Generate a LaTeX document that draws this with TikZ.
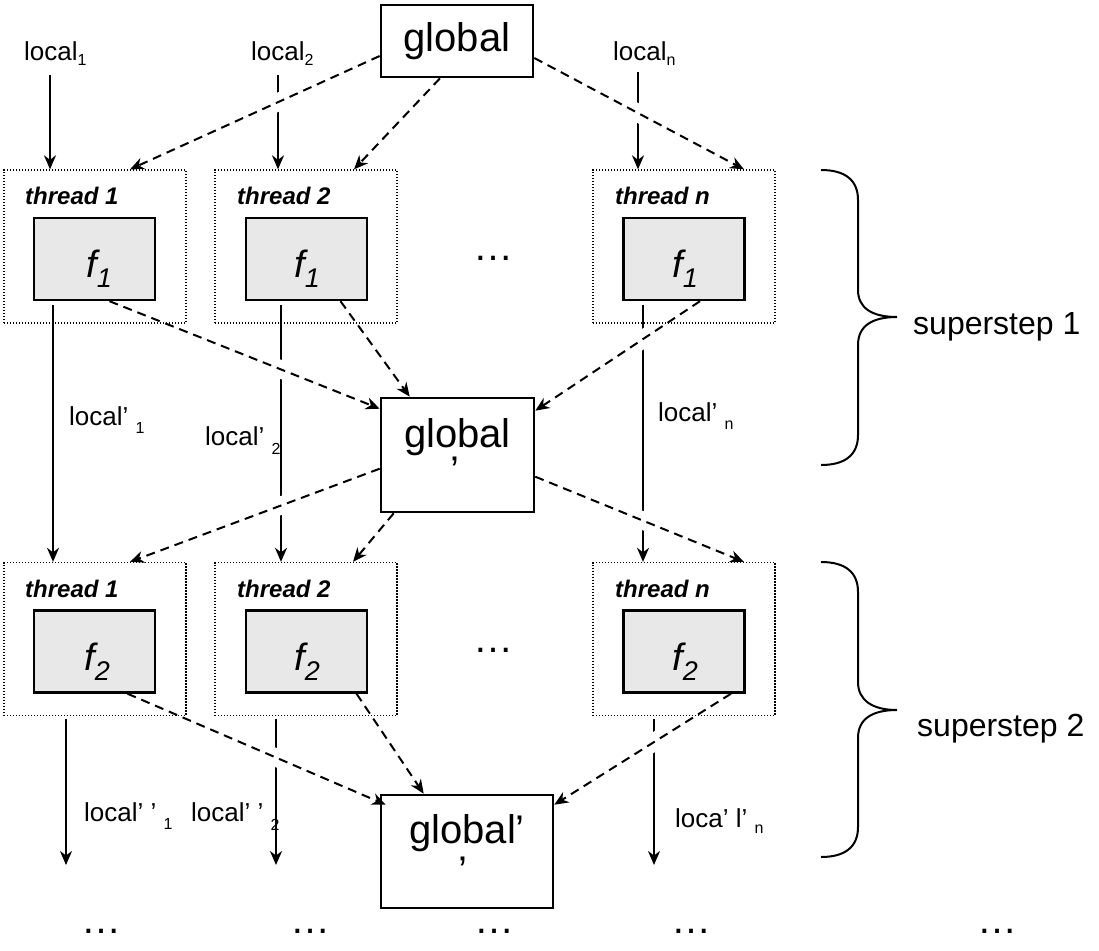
\documentclass[tikz,border=0pt]{standalone}
\usepackage{fontspec}
\setmainfont{Liberation Sans}
\usetikzlibrary{arrows.meta}
\definecolor{boxgray}{RGB}{232,232,232}
\pgfdeclarelayer{edges}
\pgfsetlayers{edges,main}
\newcommand\sbs[2][6]{\raisebox{-#1pt}{\fontsize{16}{16}\selectfont #2}}
\newcommand\fsb[1]{\raisebox{-10pt}{\fontsize{27}{27}\selectfont #1}}
\begin{document}
\begin{tikzpicture}[x=1pt,y=-1pt,
  thbox/.style={draw, line width=1.3pt, dash pattern=on 1.3pt off 1.7pt, minimum width=182pt, minimum height=153pt, inner sep=0pt},
  fbox/.style={draw, line width=2.4pt, fill=boxgray, minimum width=121pt, minimum height=82pt, inner sep=0pt},
  ftext/.style={inner sep=0pt, anchor=base west, font=\fontsize{38}{38}\selectfont\itshape},
  gbox/.style={draw, line width=2.6pt, inner sep=0pt},
  gtext/.style={inner sep=0pt, font=\fontsize{40}{40}\selectfont},
  thlab/.style={inner sep=0pt, anchor=west, font=\fontsize{24}{24}\selectfont\bfseries\itshape},
  lab/.style={inner sep=0pt, anchor=base west, font=\fontsize{26}{26}\selectfont},
  sslab/.style={inner sep=0pt, anchor=base west, font=\fontsize{32}{32}\selectfont},
  dots/.style={inner sep=0pt, font=\fontsize{40}{40}\selectfont},
  arr/.style={line width=2pt, -{Stealth[length=14pt,width=12pt,inset=4.5pt]}},
  darr/.style={arr, dash pattern=on 9pt off 6pt, preaction={draw=white, line width=18pt, solid, -, shorten <=10pt, shorten >=18pt}},
  brace/.style={line width=2pt}
]
\useasboundingbox (0,0) rectangle (1099,950);

% ---------- top
\node[gbox, minimum width=152pt, minimum height=72pt, gtext] (g0) at (457,41) {global};
\node[lab] (l1) at (24,60) {local\sbs[5]{1}};
\node[lab] (l2) at (251,60) {local\sbs[5]{2}};
\node[lab] (ln) at (613,60) {local\sbs[5]{n}};

% ---------- row 1
\node[thbox] (th1a) at (95,246.5) {};
\node[thbox] (th2a) at (306,246.5) {};
\node[thbox] (thna) at (684,246.5) {};
\node[thlab] (t1a) at (25,196) {thread 1};
\node[thlab] (t2a) at (237,196) {thread 2};
\node[thlab] (tna) at (615,196) {thread n};
\node[fbox] (f1a) at (94.5,259) {};
\node[fbox] (f2a) at (306.5,259) {};
\node[fbox] (fna) at (684,259) {};
\node[ftext] (f1at) at (86,277) {f\fsb{1}};
\node[ftext] (f2at) at (294,277) {f\fsb{1}};
\node[ftext] (fnat) at (672,277) {f\fsb{1}};
\node[dots] (d1) at (493,258) {…};

% ---------- global'
\node[gbox, minimum width=153pt, minimum height=114pt] (g1) at (457.5,455) {};
\node[gtext, anchor=base] (g1t) at (457.5,447) {global};
\node[gtext, anchor=base] (g1q) at (455,484) {’};

\node[lab] (lp1) at (69,425) {local’ \sbs[8]{1}};
\node[lab] (lp2) at (205,445) {local’ \sbs[9]{2}};
\node[lab] (lpn) at (658,421) {local’ \sbs[8]{n}};

% ---------- row 2
\node[thbox] (th1b) at (95,639) {};
\node[thbox] (th2b) at (306,639) {};
\node[thbox] (thnb) at (684,639) {};
\node[thlab] (t1b) at (25,589) {thread 1};
\node[thlab] (t2b) at (237,589) {thread 2};
\node[thlab] (tnb) at (615,589) {thread n};
\node[fbox] (f1b) at (94.5,651.5) {};
\node[fbox] (f2b) at (306.5,651.5) {};
\node[fbox] (fnb) at (684,651.5) {};
\node[ftext] (f1bt) at (84,670) {f\fsb{2}};
\node[ftext] (f2bt) at (294,670) {f\fsb{2}};
\node[ftext] (fnbt) at (672,670) {f\fsb{2}};
\node[dots] (d2) at (493,650) {…};

% ---------- global''
\node[gbox, minimum width=172pt, minimum height=113pt] (g2) at (467,851.5) {};
\node[gtext, anchor=base] (g2t) at (467,843) {global’};
\node[gtext, anchor=base] (g2q) at (463,884) {’};

\node[lab] (lpp1) at (84,821) {local’ ’ \sbs[8]{1}};
\node[lab] (lpp2) at (191,821) {local’ ’ \sbs[9]{2}};
\node[lab] (lppn) at (675,827) {loca’ l’ \sbs[6]{n}};

% ---------- bottom dots
\node[dots] (b1) at (101,931) {…};
\node[dots] (b2) at (310,931) {…};
\node[dots] (b3) at (494,931) {…};
\node[dots] (b4) at (691,931) {…};
\node[dots] (b5) at (997,931) {…};

% ---------- braces and superstep labels
\draw[brace] (821,170) .. controls (845,170) and (858,180) .. (858,200) -- (858,290)
  .. controls (858,308) and (872,317) .. (897,317)
  .. controls (872,317) and (858,326) .. (858,345) -- (858,435)
  .. controls (858,455) and (845,465) .. (821,465);
\draw[brace] (821,562) .. controls (845,562) and (858,572) .. (858,592) -- (858,682)
  .. controls (858,700) and (872,710) .. (897,710)
  .. controls (872,710) and (858,719) .. (858,738) -- (858,827)
  .. controls (858,847) and (845,857) .. (821,857);
\node[sslab] (ss1) at (913,334) {superstep 1};
\node[sslab] (ss2) at (917,736) {superstep 2};

% ---------- free ends
\coordinate (s1) at (50,75);
\coordinate (s2) at (278,75);
\coordinate (sn) at (638,72);
\coordinate (m1) at (53,305);
\coordinate (m2) at (281,305);
\coordinate (mn) at (643,305);
\coordinate (u1) at (66,719);
\coordinate (u2) at (276,719);
\coordinate (un) at (654,719);
\coordinate (e1) at (66,865);
\coordinate (e2) at (276,865);
\coordinate (en) at (654,865);

\begin{pgfonlayer}{edges}
% solid
\draw[arr] (s1) -- (s1 |- th1a.north);
\draw[arr] (s2) -- (s2 |- th2a.north);
\draw[arr] (sn) -- (sn |- thna.north);
\draw[arr] (m1) -- (m1 |- th1b.north);
\draw[arr] (m2) -- (m2 |- th2b.north);
\draw[arr] (mn) -- (mn |- thnb.north);
\draw[arr] (u1) -- (e1);
\draw[arr] (u2) -- (e2);
\draw[arr] (un) -- (en);
% dashed
\draw[darr] ([yshift=-15pt]g0.west) -- ([xshift=35pt]th1a.north);
\draw[darr] ([xshift=-17pt]g0.south) -- ([xshift=48pt]th2a.north);
\draw[darr] ([yshift=-17pt]g0.east) -- ([xshift=60pt]thna.north);
\draw[darr] ([xshift=15pt]f1a.south) -- ([yshift=-12pt]g1.north west);
\draw[darr] ([xshift=34pt]f2a.south) -- ([xshift=30pt]g1.north west);
\draw[darr] ([xshift=16pt]fna.south) -- ([yshift=-14pt]g1.north east);
\draw[darr] ([yshift=-72pt]g1.north west) -- ([xshift=35pt]th1b.north);
\draw[darr] ([xshift=14pt]g1.south west) -- ([xshift=47pt]th2b.north);
\draw[darr] ([yshift=-80pt]g1.north east) -- ([xshift=60pt]thnb.north);
\draw[darr] ([xshift=33pt]f1b.south) -- ([xshift=6pt,yshift=-11pt]g2.north west);
\draw[darr] ([xshift=50pt]f2b.south) -- ([xshift=44pt]g2.north west);
\draw[darr] ([xshift=47pt]fnb.south) -- ([yshift=-11pt]g2.north east);
\end{pgfonlayer}
\end{tikzpicture}
\end{document}
